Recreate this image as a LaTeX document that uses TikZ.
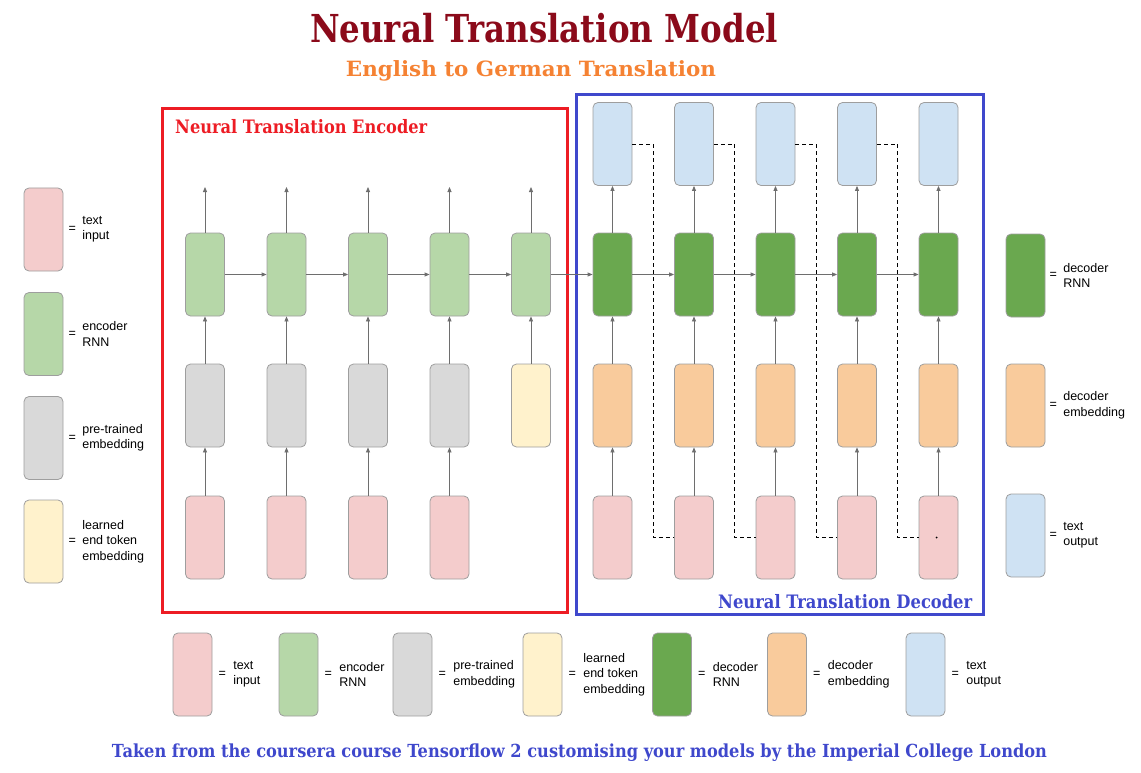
\documentclass[tikz,border=0pt]{standalone}
\usepackage{fontspec}
\setmainfont{Liberation Serif}
\setsansfont{Liberation Sans}
\newfontfamily\headfont{DejaVu Serif}
\usetikzlibrary{positioning,arrows.meta,calc}
\definecolor{titlered}{HTML}{8B0A1A}
\definecolor{suborange}{HTML}{F58233}
\definecolor{encred}{HTML}{ED1C24}
\definecolor{decblue}{HTML}{3F48CC}
\definecolor{cellborder}{HTML}{9E9E9E}
\definecolor{linkgray}{HTML}{6E6E6E}
\definecolor{txtin}{HTML}{F4CCCC}
\definecolor{encrnn}{HTML}{B6D7A8}
\definecolor{pretrain}{HTML}{D9D9D9}
\definecolor{endtok}{HTML}{FFF2CC}
\definecolor{decrnn}{HTML}{6AA84F}
\definecolor{decemb}{HTML}{F9CB9C}
\definecolor{txtout}{HTML}{CFE2F3}

\begin{document}
\begin{tikzpicture}[
  x=1pt, y=-1pt,
  cell/.style={rectangle, rounded corners=5pt, draw=cellborder, fill=#1,
    minimum width=39pt, minimum height=83pt, inner sep=0pt, line width=0.8pt},
  arrow/.style={-{Triangle[length=5pt,width=4pt]}, color=linkgray, line width=0.8pt},
  skip/.style={dash pattern=on 4pt off 3pt, line width=0.8pt},
  eqsign/.style={font=\sffamily\fontsize{12.5}{15.5}\selectfont, inner sep=0pt},
  legtext/.style={font=\sffamily\fontsize{12.5}{15.5}\selectfont, align=left, inner sep=0pt}
]
\useasboundingbox (0,0) rectangle (1141,773);

% Titles
\node[anchor=base, text=titlered, inner sep=0pt] (title) at (544,43)
  {\resizebox{468pt}{\height}{\headfont\fontsize{38.5}{38.5}\selectfont\bfseries Neural Translation Model}};
\node[anchor=base, text=suborange, inner sep=0pt] (subtitle) at (531,77)
  {\resizebox{370pt}{\height}{\headfont\fontsize{21}{21}\selectfont\bfseries English to German Translation}};

% Containers
\draw[encred, line width=3pt] (162,108.5) rectangle (567,612.5);
\draw[decblue, line width=3pt] (576,95) rectangle (983,614.5);
\node[anchor=base west, text=encred, inner sep=0pt] (enclabel) at (175,134)
  {\resizebox{252pt}{\height}{\headfont\fontsize{18.5}{18.5}\selectfont\bfseries Neural Translation Encoder}};
\node[anchor=base west, text=decblue, inner sep=0pt] (declabel) at (718,608)
  {\resizebox{254pt}{\height}{\headfont\fontsize{18.5}{18.5}\selectfont\bfseries Neural Translation Decoder}};

% Encoder
\foreach \i/\x in {1/205,2/286.5,3/368,4/449.5}{
  \node[cell=txtin] (ein\i) at (\x,537.5) {};
  \node[cell=pretrain] (eemb\i) at (\x,405.5) {};
  \draw[arrow] (ein\i) -- (eemb\i);
}
\node[cell=endtok] (eemb5) at (531,405.5) {};
\foreach \i/\x in {1/205,2/286.5,3/368,4/449.5,5/531}{
  \node[cell=encrnn] (ernn\i) at (\x,274.5) {};
  \coordinate (eout\i) at (\x,187);
  \draw[arrow] (eemb\i) -- (ernn\i);
  \draw[arrow] (ernn\i) -- (eout\i);
}
\foreach \i/\j in {1/2,2/3,3/4,4/5}
  \draw[arrow] (ernn\i) -- (ernn\j);

% Decoder
\foreach \i/\x in {1/612.5,2/694,3/775.5,4/857,5/938.5}{
  \node[cell=txtin] (din\i) at (\x,537.5) {};
  \node[cell=decemb] (demb\i) at (\x,405.5) {};
  \node[cell=decrnn] (drnn\i) at (\x,274.5) {};
  \node[cell=txtout] (dout\i) at (\x,144) {};
  \draw[arrow] (din\i) -- (demb\i);
  \draw[arrow] (demb\i) -- (drnn\i);
  \draw[arrow] (drnn\i) -- (dout\i);
}
\draw[arrow] (ernn5) -- (drnn1);
\foreach \i/\j in {1/2,2/3,3/4,4/5}{
  \draw[arrow] (drnn\i) -- (drnn\j);
  \draw[skip] (dout\i.east) -- ($(dout\i.east)!0.5!(dout\j.west)$) |- (din\j.west);
}
\node[circle, fill=black, inner sep=0pt, minimum size=2pt] (dot) at ([xshift=-2pt]din5.center) {};

% Side legends
\foreach \nm/\col/\y/\txt in {lin/txtin/229.5/{text\\input}, lrnn/encrnn/334/{encoder\\RNN},
    lemb/pretrain/438/{pre-trained\\embedding}, lend/endtok/541.5/{learned\\end token\\embedding}}{
  \node[cell=\col] (\nm) at (43.5,\y) {};
  \node[eqsign, right=5pt of \nm] (\nm-eq) {=};
  \node[legtext, right=6pt of \nm-eq] (\nm-txt) {\txt};
}
\foreach \nm/\col/\y/\txt in {rrnn/decrnn/275.5/{decoder\\RNN}, remb/decemb/405.5/{decoder\\embedding},
    rout/txtout/535.5/{text\\output}}{
  \node[cell=\col] (\nm) at (1025.5,\y) {};
  \node[eqsign, right=4pt of \nm] (\nm-eq) {=};
  \node[legtext, right=6pt of \nm-eq] (\nm-txt) {\txt};
}

% Bottom legend
\foreach \nm/\col/\x/\txt in {bin/txtin/192.5/{text\\input}, brnn/encrnn/298.5/{encoder\\RNN},
    bemb/pretrain/412.5/{pre-trained\\embedding}, bend/endtok/542.5/{learned\\end token\\embedding},
    bdrnn/decrnn/672/{decoder\\RNN}, bdemb/decemb/787/{decoder\\embedding}, bout/txtout/925.5/{text\\output}}{
  \node[cell=\col] (\nm) at (\x,674.5) {};
  \node[eqsign, right=6pt of \nm] (\nm-eq) {=};
  \node[legtext, right=7pt of \nm-eq] (\nm-txt) {\txt};
}

% Footer
\node[anchor=base, text=decblue, inner sep=0pt] (credit) at (579.5,757)
  {\resizebox{935pt}{\height}{\headfont\fontsize{18}{18}\selectfont\bfseries Taken from the coursera course Tensorflow 2 customising your models by the Imperial College London}};

\end{tikzpicture}
\end{document}
